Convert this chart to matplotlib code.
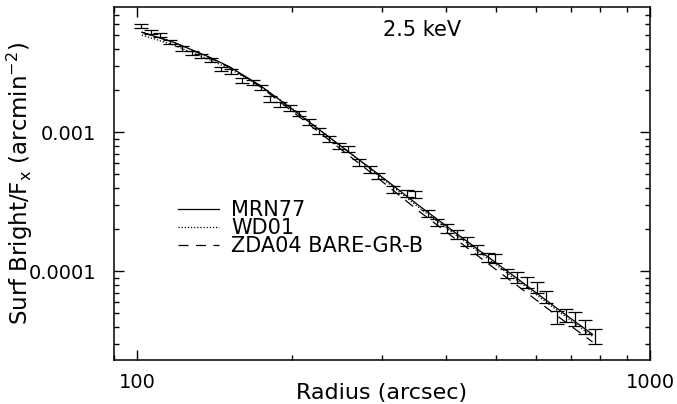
import matplotlib
matplotlib.use("Agg")
import matplotlib.pyplot as plt
import matplotlib.ticker as ticker
import numpy as np

# measured surface brightness profile
radius = [101.5, 106.2, 110.6, 115.7, 121.9, 127.5, 133.3, 139.4, 145.4, 152.1,
          159.6, 167.9, 174.0, 181.2, 189.5, 198.2, 206.4, 215.8, 225.7, 236.1,
          247.0, 257.1, 270.1, 283.8, 294.2, 314.7, 335.0, 347.3, 368.1, 383.4,
          401.0, 419.4, 438.6, 458.8, 482.0, 497.4, 524.9, 549.0, 574.2, 600.6,
          625.3, 657.0, 684.1, 712.3, 745.0, 779.3]
surf = [5.82e-3, 5.27e-3, 4.99e-3, 4.46e-3, 4.00e-3, 3.74e-3, 3.54e-3, 3.33e-3, 2.85e-3, 2.73e-3,
        2.35e-3, 2.28e-3, 2.10e-3, 1.73e-3, 1.58e-3, 1.50e-3, 1.36e-3, 1.18e-3, 1.017e-3, 8.90e-4,
        7.97e-4, 7.55e-4, 6.08e-4, 5.42e-4, 4.85e-4, 3.89e-4, 3.64e-4, 3.58e-4, 2.61e-4, 2.25e-4,
        2.04e-4, 1.85e-4, 1.64e-4, 1.44e-4, 1.26e-4, 1.24e-4, 9.67e-5, 9.05e-5, 8.33e-5, 7.67e-5,
        6.61e-5, 4.67e-5, 4.83e-5, 4.59e-5, 4.02e-5, 3.41e-5]
# fractional errors
frac_err = [0.035, 0.035, 0.035, 0.035, 0.035, 0.035, 0.035, 0.035, 0.04, 0.04,
            0.04, 0.04, 0.04, 0.045, 0.045, 0.045, 0.045, 0.05, 0.05, 0.05,
            0.05, 0.05, 0.055, 0.055, 0.055, 0.06, 0.06, 0.06, 0.065, 0.065,
            0.07, 0.07, 0.07, 0.075, 0.075, 0.08, 0.08, 0.085, 0.09, 0.09,
            0.10, 0.11, 0.11, 0.115, 0.115, 0.12]

# dust model curves
r_model = [102.0, 117.4, 138.4, 151.4, 173.2, 198.2, 248.1, 296.9, 355.2, 444.6, 556.5, 665.9, 772.3]
mrn77 = [5.24e-3, 4.45e-3, 3.46e-3, 2.95e-3, 2.18e-3, 1.51e-3, 8.06e-4, 4.91e-4, 2.94e-4, 1.59e-4, 8.61e-5, 5.24e-5, 3.52e-5]
wd01 = [5.00e-3, 4.25e-3, 3.32e-3, 2.86e-3, 2.16e-3, 1.53e-3, 8.06e-4, 4.81e-4, 2.85e-4, 1.54e-4, 8.35e-5, 5.08e-5, 3.41e-5]
zda04 = [5.24e-3, 4.45e-3, 3.43e-3, 2.92e-3, 2.14e-3, 1.46e-3, 7.66e-4, 4.57e-4, 2.68e-4, 1.43e-4, 7.66e-5, 4.64e-5, 3.10e-5]

surf = np.array(surf)
err = surf * np.array(frac_err)

fig = plt.figure(figsize=(6.77, 4.04), dpi=100)
ax = fig.add_axes([0.1684, 0.1089, 0.7918, 0.8738])

ax.errorbar(radius, surf, yerr=err, fmt='none', ecolor='black', elinewidth=0.9,
            capsize=4.7, capthick=0.9)
ax.plot(r_model, mrn77, color='black', lw=0.9, ls='-', label='MRN77')
ax.plot(r_model, wd01, color='black', lw=0.9, ls=(0, (1, 1.5)), label='WD01')
ax.plot(r_model, zda04, color='black', lw=0.9, ls=(0, (8, 6)), label='ZDA04 BARE-GR-B')

ax.set_xscale('log')
ax.set_yscale('log')
ax.set_xlim(90, 1000)
ax.set_ylim(2.3e-5, 7.96e-3)

fmt = ticker.FuncFormatter(lambda v, _: f'{v:g}')
ax.xaxis.set_major_formatter(fmt)
ax.yaxis.set_major_formatter(fmt)
ax.xaxis.set_minor_formatter(ticker.NullFormatter())
ax.yaxis.set_minor_formatter(ticker.NullFormatter())
ax.tick_params(which='both', direction='in', top=True, right=True, labelsize=14)
ax.tick_params(which='major', length=7.2, width=1.0)
ax.tick_params(which='minor', length=3.6, width=1.0)
ax.tick_params(axis='x', which='major', pad=9)
ax.tick_params(axis='y', which='major', pad=13)
for s in ax.spines.values():
    s.set_linewidth(1.1)

ax.set_xlabel('Radius (arcsec)', fontsize=16)
ax.xaxis.set_label_coords(0.5, -0.064)
ax.set_ylabel(r'Surf Bright/F$_{\rm x}$ (arcmin$^{-2}$)', fontsize=16.5)
ax.yaxis.set_label_coords(-0.148, 0.5)

ax.text(0.575, 0.936, '2.5 keV', transform=ax.transAxes, fontsize=15,
        ha='center', va='center')

ax.legend(loc='upper left', bbox_to_anchor=(0.119, 0.453), frameon=False,
          fontsize=15, handlelength=2.0, handletextpad=0.55,
          labelspacing=-0.09, borderpad=0, borderaxespad=0)

fig.savefig('out.png', dpi=100)
